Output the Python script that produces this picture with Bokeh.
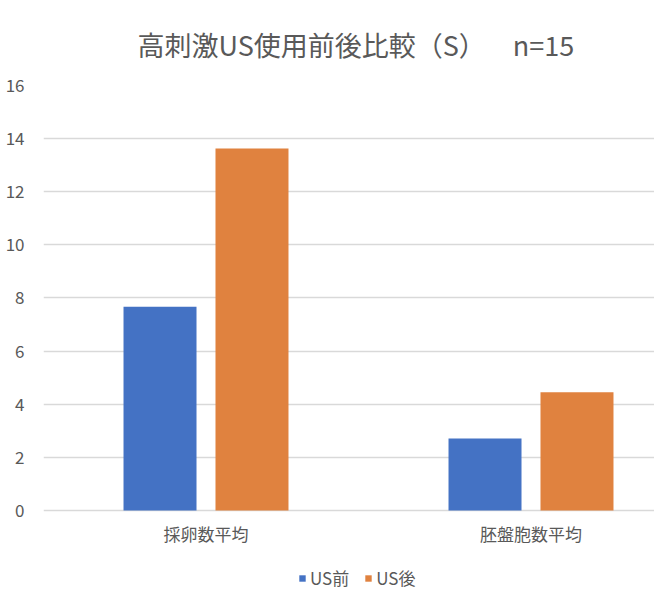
from bokeh.plotting import figure
from bokeh.models import Range1d, FixedTicker, ColumnDataSource, Legend, LegendItem
from bokeh.embed import file_html
from bokeh.resources import INLINE

categories = ["採卵数平均", "胚盤胞数平均"]
series_names = ["US前", "US後"]
before = [7.67, 2.71]
after = [13.63, 4.45]
colors = ["#4472C4", "#E0823F"]
y_ticks = [0, 2, 4, 6, 8, 10, 12, 14, 16]

FONT = "Noto Sans CJK JP"
GRAY = "#595959"

# frame spans 0..16 over 425 px; extend below zero to the page bottom for axis labels + legend
p = figure(frame_width=611, frame_height=523, output_backend="svg", toolbar_location=None,
           x_range=Range1d(0, 1.88), y_range=Range1d(-3.69, 16),
           min_border_left=43, min_border_right=0, min_border_top=85, min_border_bottom=0)
p.outline_line_color = None
p.background_fill_color = "white"
p.border_fill_color = "white"

centers = [i + 0.5 for i in range(len(categories))]
bw = 0.2246
off = 0.1415
src_b = ColumnDataSource(dict(x=[c - off for c in centers], top=before))
src_a = ColumnDataSource(dict(x=[c + off for c in centers], top=after))
r1 = p.vbar(x="x", top="top", width=bw, source=src_b, fill_color=colors[0], line_color=None)
r2 = p.vbar(x="x", top="top", width=bw, source=src_a, fill_color=colors[1], line_color=None)

p.xaxis.ticker = FixedTicker(ticks=centers)
p.xaxis.major_label_overrides = {c: n for c, n in zip(centers, categories)}
p.xaxis.fixed_location = 0
p.yaxis.ticker = FixedTicker(ticks=y_ticks)
for ax in (p.xaxis, p.yaxis):
    ax.axis_line_color = None
    ax.major_tick_line_color = None
    ax.minor_tick_line_color = None
    ax.major_label_text_font = FONT
    ax.major_label_text_color = GRAY
p.xaxis.major_label_text_font_size = "17px"
p.yaxis.major_label_text_font_size = "17px"
p.xaxis.major_label_standoff = 5
p.yaxis.major_label_standoff = 13
p.xgrid.grid_line_color = None
p.ygrid.grid_line_color = "#D9D9D9"
p.ygrid.grid_line_width = 1.3

p.title.text = "高刺激US使用前後比較（S）\u3000\u2002n=15"
p.title.text_font = FONT
p.title.text_font_size = "27px"
p.title.text_font_style = "normal"
p.title.text_color = GRAY
p.title.align = "left"
p.title.offset = 94
p.title.standoff = 44

legend = Legend(items=[LegendItem(label=series_names[0], renderers=[r1]),
                       LegendItem(label=series_names[1], renderers=[r2])],
                orientation="horizontal", location=(255, 18),
                label_text_font=FONT, label_text_font_size="17px", label_text_color=GRAY,
                glyph_width=8, glyph_height=8, label_standoff=4, spacing=15,
                border_line_color=None, background_fill_alpha=0, padding=0, margin=0)
p.add_layout(legend)

open("out.html", "w").write(file_html(p, INLINE))
